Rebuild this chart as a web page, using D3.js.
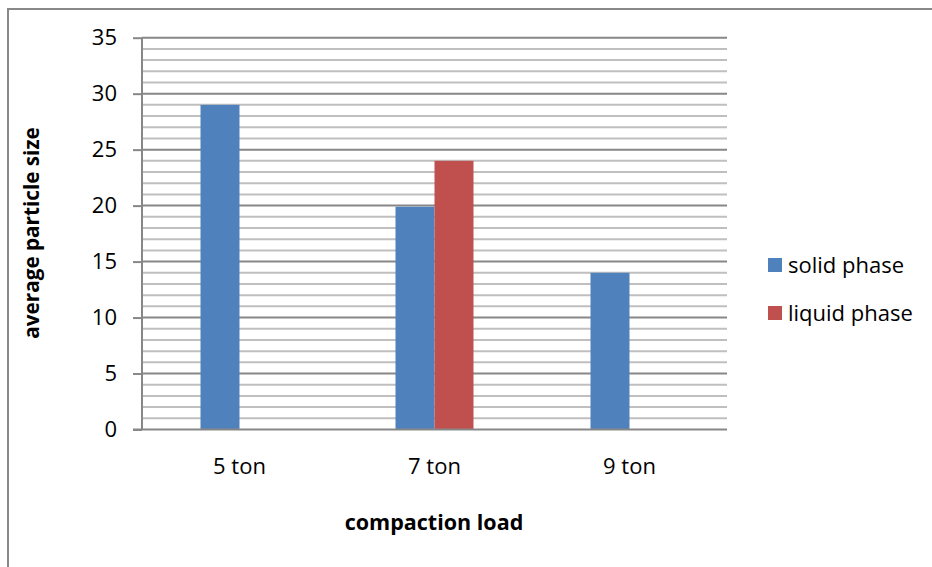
<!DOCTYPE html>
<html><head><meta charset="utf-8">
<script src="https://cdn.jsdelivr.net/npm/d3@7"></script>
<style>body{margin:0;background:#fff}svg{display:block}text{font-family:"Open Sans",Lato,sans-serif}</style>
</head><body>
<svg id="c" width="932" height="567"></svg>
<script>
const categories = ["5 ton", "7 ton", "9 ton"];
const seriesNames = ["solid phase", "liquid phase"];
const solidPhase = [29, 19.9, 14];
const liquidPhase = [null, 24, null];
const yTicks = [0, 5, 10, 15, 20, 25, 30, 35];
const colors = ["#4f81bd", "#c0504d"];

const svg = d3.select("#c");
// outer border
svg.append("rect").attr("x",8).attr("y",9).attr("width",940).attr("height",580)
  .attr("fill","#fff").attr("stroke","#888").attr("stroke-width",2);

const L=142, R=727, T=37.7, B=429.5;
const x = d3.scaleBand().domain(categories).range([L,R]).paddingInner(0.6).paddingOuter(0.3);
const y = d3.scaleLinear().domain([0,35]).range([B,T]);

// minor gridlines
const minor = d3.range(0,36).filter(v=>v%5!==0);
svg.append("g").selectAll("line").data(minor).join("line")
  .attr("x1",L).attr("x2",R).attr("y1",d=>y(d)).attr("y2",d=>y(d))
  .attr("stroke","#bfbfbf").attr("stroke-width",2);
// major gridlines
svg.append("g").selectAll("line").data(yTicks.filter(v=>v>0)).join("line")
  .attr("x1",L).attr("x2",R).attr("y1",d=>y(d)).attr("y2",d=>y(d))
  .attr("stroke","#878787").attr("stroke-width",2);

const data = categories.map((c,i)=>({c, vals:[solidPhase[i], liquidPhase[i]]}));
const xs = d3.scaleBand().domain([0,1]).range([0,x.bandwidth()]);
const g = svg.append("g");
data.forEach(d=>{
  d.vals.forEach((v,j)=>{
    if(v==null) return;
    g.append("rect").attr("x",x(d.c)+xs(j)).attr("width",xs.bandwidth())
      .attr("y",y(v)).attr("height",y(0)-y(v)).attr("fill",colors[j]);
  });
});

// y axis
const ya = svg.append("g").attr("transform",`translate(${L},0)`)
  .call(d3.axisLeft(y).tickValues(yTicks).tickSize(9).tickPadding(16));
ya.select(".domain").attr("stroke","#878787").attr("stroke-width",2).attr("d",`M0,${T}V${B}`);
ya.selectAll(".tick line").attr("stroke","#878787").attr("stroke-width",2);
ya.selectAll(".tick text").attr("font-size",22).attr("fill","#000");

// x axis
const xa = svg.append("g").attr("transform",`translate(0,${B})`)
  .call(d3.axisBottom(x).tickSize(0).tickPadding(29));
xa.select(".domain").attr("stroke","#878787").attr("stroke-width",2).attr("d",`M${L-9},0H${R}`);
xa.selectAll(".tick text").attr("font-size",22).attr("fill","#000");

// axis titles
svg.append("text").attr("x",434).attr("y",530).attr("text-anchor","middle")
  .attr("font-size",21.5).attr("font-weight","bold").text("compaction load");
svg.append("text").attr("transform","translate(39,233) rotate(-90)").attr("text-anchor","middle")
  .attr("font-size",20.7).attr("font-weight","bold").text("average particle size");

// legend
const lg = svg.append("g").attr("transform","translate(768,258)");
seriesNames.forEach((n,i)=>{
  lg.append("rect").attr("x",0).attr("y",i*48).attr("width",14).attr("height",14).attr("fill",colors[i]);
  lg.append("text").attr("x",20).attr("y",i*48+15).attr("font-size",22).text(n);
});
</script>
</body></html>
